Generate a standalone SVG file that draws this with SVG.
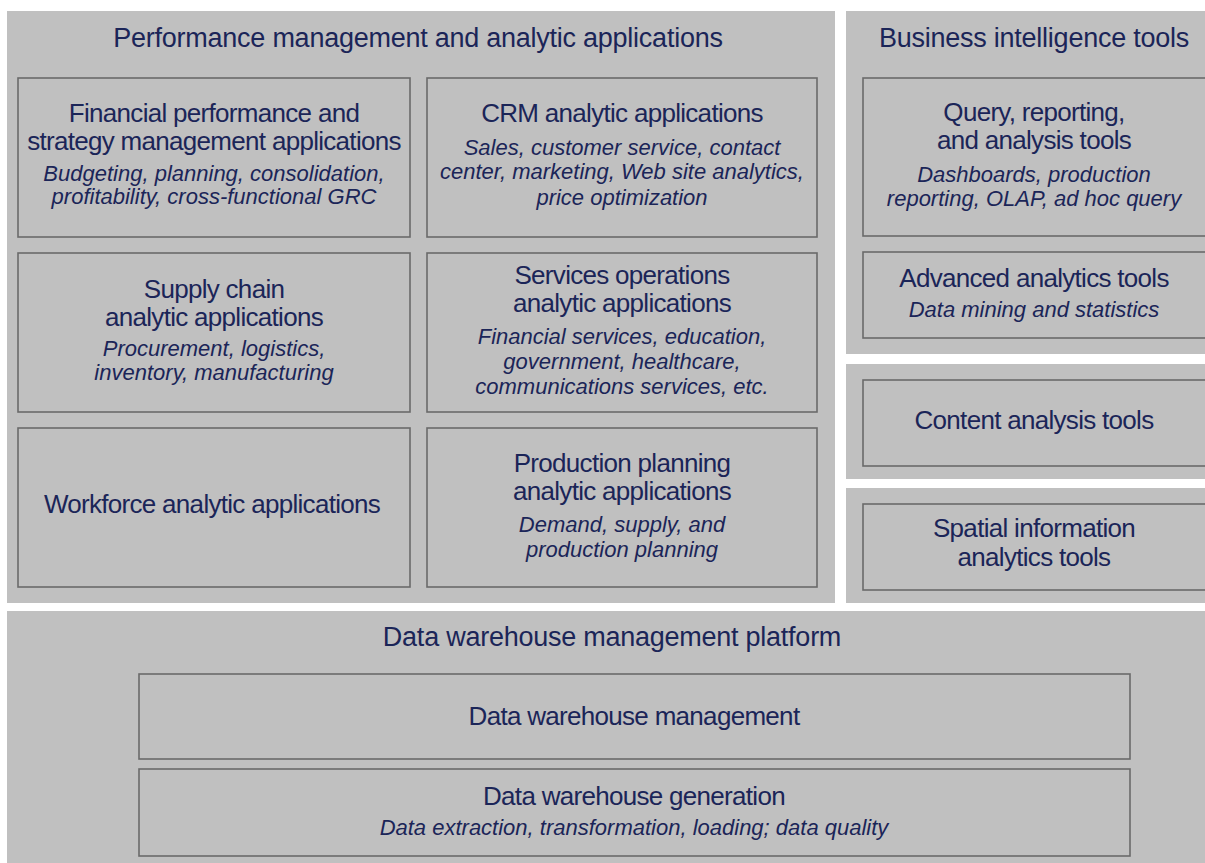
<svg xmlns="http://www.w3.org/2000/svg" width="1205" height="863" viewBox="0 0 1205 863">
<style>
.panel{fill:#c0c0c0;}
.box{fill:#c0c0c0;stroke:#6a6a6a;stroke-width:1.6;}
text{font-family:"Liberation Sans",Arial,sans-serif;fill:#1b2558;text-anchor:middle;}
.h{font-size:27px;letter-spacing:-0.25px;}
.t{font-size:26px;letter-spacing:-0.7px;}
.i{font-size:22px;font-style:italic;letter-spacing:0px;}
</style>
<rect width="1205" height="863" fill="#ffffff"/>
<g id="panels">
<rect class="panel" x="7" y="11" width="828" height="592"/>
<rect class="panel" x="846" y="11" width="359" height="343"/>
<rect class="panel" x="846" y="364" width="359" height="115"/>
<rect class="panel" x="846" y="488" width="359" height="115"/>
<rect class="panel" x="7" y="611" width="1198" height="252"/>
</g>
<g id="performance-title"><text class="h" x="418" y="47">Performance management and analytic applications</text></g>
<g id="bi-title"><text class="h" x="1034" y="47">Business intelligence tools</text></g>
<g id="financial">
<rect class="box" x="18" y="78" width="392" height="159"/>
<text class="t" x="214" y="122">Financial performance and</text>
<text class="t" x="214" y="150">strategy management applications</text>
<text class="i" x="214" y="181">Budgeting, planning, consolidation,</text>
<text class="i" x="214" y="204">profitability, cross-functional GRC</text>
</g>
<g id="crm">
<rect class="box" x="427" y="78" width="390" height="159"/>
<text class="t" x="622" y="122">CRM analytic applications</text>
<text class="i" x="622" y="155">Sales, customer service, contact</text>
<text class="i" x="622" y="179">center, marketing, Web site analytics,</text>
<text class="i" x="622" y="205">price optimization</text>
</g>
<g id="supply">
<rect class="box" x="18" y="253" width="392" height="159"/>
<text class="t" x="214" y="298">Supply chain</text>
<text class="t" x="214" y="326">analytic applications</text>
<text class="i" x="214" y="356">Procurement, logistics,</text>
<text class="i" x="214" y="380">inventory, manufacturing</text>
</g>
<g id="services">
<rect class="box" x="427" y="253" width="390" height="159"/>
<text class="t" x="622" y="284">Services operations</text>
<text class="t" x="622" y="312">analytic applications</text>
<text class="i" x="622" y="344">Financial services, education,</text>
<text class="i" x="622" y="369">government, healthcare,</text>
<text class="i" x="622" y="394">communications services, etc.</text>
</g>
<g id="workforce">
<rect class="box" x="18" y="428" width="392" height="159"/>
<text class="t" x="212" y="513">Workforce analytic applications</text>
</g>
<g id="production">
<rect class="box" x="427" y="428" width="390" height="159"/>
<text class="t" x="622" y="472">Production planning</text>
<text class="t" x="622" y="500">analytic applications</text>
<text class="i" x="622" y="532">Demand, supply, and</text>
<text class="i" x="622" y="557">production planning</text>
</g>
<g id="query">
<rect class="box" x="863" y="78" width="350" height="158"/>
<text class="t" x="1034" y="121">Query, reporting,</text>
<text class="t" x="1034" y="149">and analysis tools</text>
<text class="i" x="1034" y="182">Dashboards, production</text>
<text class="i" x="1034" y="206">reporting, OLAP, ad hoc query</text>
</g>
<g id="advanced">
<rect class="box" x="863" y="252" width="350" height="86"/>
<text class="t" x="1034" y="287">Advanced analytics tools</text>
<text class="i" x="1034" y="317">Data mining and statistics</text>
</g>
<g id="content">
<rect class="box" x="863" y="380" width="350" height="86"/>
<text class="t" x="1034" y="429">Content analysis tools</text>
</g>
<g id="spatial">
<rect class="box" x="863" y="504" width="350" height="86"/>
<text class="t" x="1034" y="537">Spatial information</text>
<text class="t" x="1034" y="566">analytics tools</text>
</g>
<g id="dw-title"><text class="h" x="612" y="646">Data warehouse management platform</text></g>
<g id="dw-management">
<rect class="box" x="139" y="674" width="991" height="85"/>
<text class="t" x="634" y="725">Data warehouse management</text>
</g>
<g id="dw-generation">
<rect class="box" x="139" y="769" width="991" height="87"/>
<text class="t" x="634" y="805">Data warehouse generation</text>
<text class="i" x="634" y="835">Data extraction, transformation, loading; data quality</text>
</g>
<g id="connectors"></g>
</svg>
